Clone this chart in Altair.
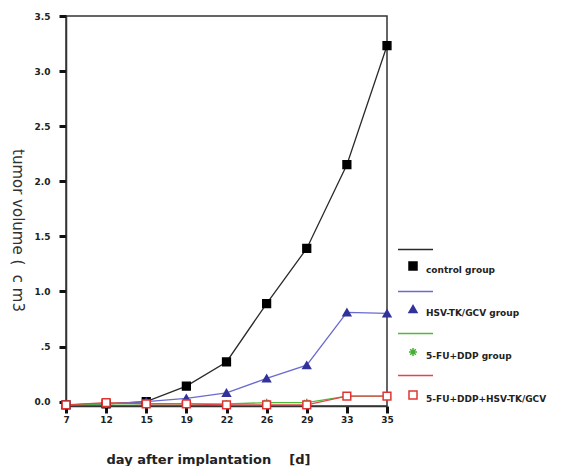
import altair as alt
import pandas as pd

days = [7, 12, 15, 19, 22, 26, 29, 33, 35]
control = [-0.03, -0.02, 0.00, 0.14, 0.36, 0.89, 1.39, 2.15, 3.23]
hsv_tk = [-0.03, -0.02, 0.00, 0.03, 0.08, 0.21, 0.33, 0.81, 0.80]
fu_ddp = [-0.03, -0.02, -0.02, -0.02, -0.02, -0.01, -0.01, 0.05, 0.05]
combo = [-0.03, -0.01, -0.02, -0.02, -0.03, -0.03, -0.03, 0.05, 0.05]

groups = ["control group", "HSV-TK/GCV group", "5-FU+DDP group", "5-FU+DDP+HSV-TK/GCV"]
line_keys = ["line 1", "line 2", "line 3", "line 4"]
y_ticks = [0.0, 0.5, 1.0, 1.5, 2.0, 2.5, 3.0, 3.5]

line_colors = ["#2a2a2a", "#6a6ad0", "#4cbb3a", "#e04848"]
fill_colors = ["#000000", "#32329c", "#44b032", "#ffffff"]
edge_colors = ["#000000", "#32329c", "#44b032", "#e03434"]
asterisk = "M-1,0L1,0M0,-1L0,1M-0.7,-0.7L0.7,0.7M-0.7,0.7L0.7,-0.7"
shapes = ["square", "triangle-up", asterisk, "square"]

rows = []
for g, k, vals in zip(groups, line_keys, [control, hsv_tk, fu_ddp, combo]):
    for d, v in zip(days, vals):
        rows.append({"day": d, "volume": v, "line": k, "marker": g})
df = pd.DataFrame(rows)

FONT = "DejaVu Sans"

x_enc = alt.X(
    "day:O",
    scale=alt.Scale(type="point", padding=0),
    axis=alt.Axis(
        title="day after implantation\u00a0\u00a0\u00a0 [d]",
        labelAngle=0,
        labelFont=FONT, labelFontSize=9, labelFontWeight="bold", labelColor="#222",
        labelPadding=2,
        tickSize=7, tickWidth=3, tickColor="#111",
        titleFont=FONT, titleFontSize=13, titleFontWeight="bold", titleColor="#222",
        titleX=142, titleY=53, titleAlign="center", titleBaseline="middle",
    ),
)
y_enc = alt.Y(
    "volume:Q",
    scale=alt.Scale(domain=[-0.04, 3.5], nice=False, zero=False),
    axis=alt.Axis(
        title="tumor volume (\u00a0 c m3",
        values=y_ticks,
        labelExpr="datum.value == 0.5 ? '.5' : format(datum.value, '.1f')",
        labelFont=FONT, labelFontSize=9, labelFontWeight="bold", labelColor="#222",
        labelPadding=9,
        tickSize=7, tickWidth=3, tickColor="#111",
        titleFont=FONT, titleFontSize=15, titleFontWeight="normal", titleColor="#333",
        titleAngle=90, titleX=-49, titleY=214, titleAlign="center", titleBaseline="middle",
    ),
)

line_legend = alt.Legend(
    orient="none", legendX=331, legendY=215, title=None,
    symbolType="stroke", symbolSize=1225, symbolStrokeWidth=1.6,
    labelExpr="''", rowPadding=18, padding=0, symbolOffset=0, labelOffset=0,
)

marker_legend = alt.Legend(
    orient="none", legendX=342, legendY=245, title=None,
    symbolSize=64, symbolStrokeWidth=1.5,
    labelFont=FONT, labelFontSize=9, labelFontWeight="bold", labelColor="#222",
    labelOffset=8, rowPadding=27, padding=0, labelLimit=400,
    labelBaseline="top",
)

lines = alt.Chart(df).mark_line(strokeWidth=1.3).encode(
    x=x_enc,
    y=y_enc,
    color=alt.Color("line:N", scale=alt.Scale(domain=line_keys, range=line_colors), legend=line_legend),
)

points = alt.Chart(df).mark_point(opacity=1, fillOpacity=1, strokeWidth=1.5).encode(
    x=x_enc,
    y=y_enc,
    shape=alt.Shape("marker:N", scale=alt.Scale(domain=groups, range=shapes), legend=marker_legend),
    fill=alt.Fill("marker:N", scale=alt.Scale(domain=groups, range=fill_colors), legend=marker_legend),
    stroke=alt.Stroke("marker:N", scale=alt.Scale(domain=groups, range=edge_colors), legend=marker_legend),
    size=alt.value(60),
)

chart = alt.layer(lines, points).properties(
    width=321,
    height=390,
    autosize=alt.AutoSizeParams(type="none"),
    padding={"left": 58, "top": 8, "right": 183, "bottom": 60},
).configure_view(
    stroke="#333", strokeWidth=1.5
).configure_axis(
    grid=False, domainColor="#333", domainWidth=1.5
)

chart.save("out.html", embed_options={"renderer": "svg", "actions": False})
